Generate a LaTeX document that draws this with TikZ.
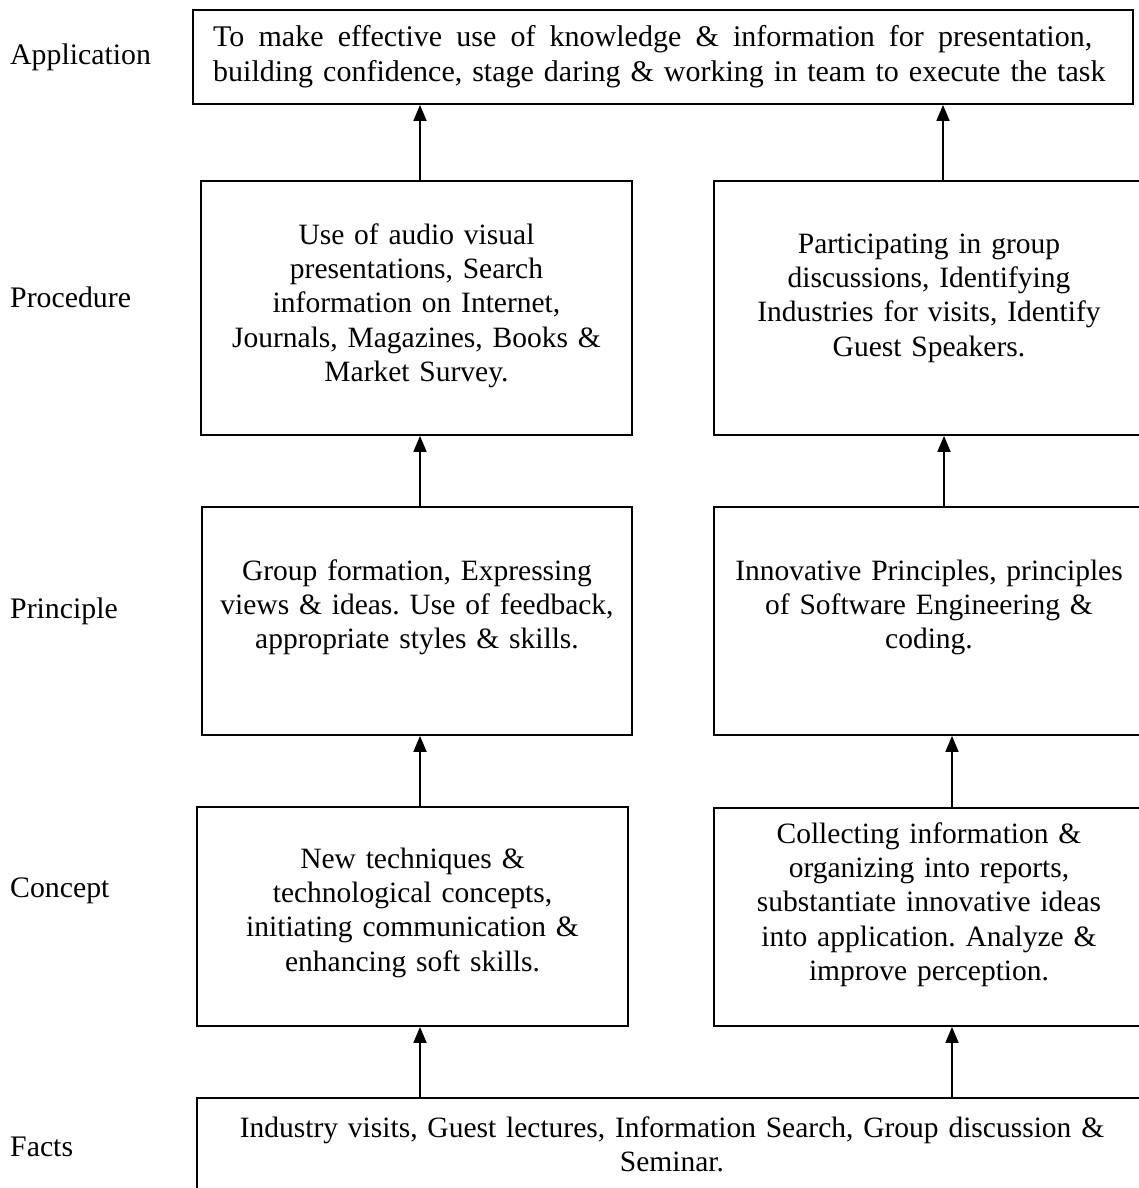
\documentclass[tikz,border=0pt]{standalone}
\usepackage{fontspec}
\setmainfont{Liberation Serif}
\usetikzlibrary{arrows.meta}
\frenchspacing
\begin{document}
\begin{tikzpicture}[x=1pt,y=-1pt,
  box/.style={draw,line width=1.8pt,inner sep=0pt,minimum width=#1},
  txt/.style={font=\fontsize{29.5}{34.4}\selectfont,inner sep=0pt,text width=430pt,align=center,anchor=base},
  lbl/.style={font=\fontsize{29.8}{34.4}\selectfont,inner sep=0pt,anchor=base west},
  arr/.style={line width=1.8pt,-{Triangle[length=16pt,width=13pt]}}]
\clip (0,0) rectangle (1139,1188);
\fill[white] (0,0) rectangle (1139,1188);
% boxes
\node[box=940pt,minimum height=94pt] (app) at (663,57) {};
\node[box=431pt,minimum height=254pt] (procL) at (416.5,308) {};
\node[box=430pt,minimum height=254pt] (procR) at (929,308) {};
\node[box=430pt,minimum height=228pt] (prinL) at (417,621) {};
\node[box=430pt,minimum height=228pt] (prinR) at (929,621) {};
\node[box=431pt,minimum height=219pt] (conL) at (412.5,916.5) {};
\node[box=430pt,minimum height=218pt] (conR) at (929,917) {};
\node[box=950pt,minimum height=112pt] (facts) at (672,1154) {};
% texts
\node[txt,font=\fontsize{30}{35}\selectfont,text width=930pt,align=left,anchor=base west] (tapp) at (213,47) {{\spaceskip=0.25em plus 1fil\hbox to 879pt{To make effective use of knowledge \& information for presentation,}}\\ building confidence, stage daring \& working in team to execute the task};
\node[txt] (tprocL) at (416.5,244) {Use of audio visual\\ presentations, Search\\ information on Internet,\\ Journals, Magazines, Books \&\\ Market Survey.};
\node[txt] (tprocR) at (929,253) {Participating in group\\ discussions, Identifying\\ Industries for visits, Identify\\ Guest Speakers.};
\node[txt] (tprinL) at (417,580) {Group formation, Expressing\\ views \& ideas. Use of feedback,\\ appropriate styles \& skills.};
\node[txt] (tprinR) at (929,580) {Innovative Principles, principles\\ of Software Engineering \&\\ coding.};
\node[txt] (tconL) at (412.5,868) {New techniques \&\\ technological concepts,\\ initiating communication \&\\ enhancing soft skills.};
\node[txt] (tconR) at (929,843) {Collecting information \&\\ organizing into reports,\\ substantiate innovative ideas\\ into application. Analyze \&\\ improve perception.};
\node[txt,text width=940pt] (tfacts) at (672,1137) {Industry visits, Guest lectures, Information Search, Group discussion \&\\ Seminar.};
% side labels
\node[lbl] (lapp) at (10,65) {Application};
\node[lbl] (lproc) at (10,307) {Procedure};
\node[lbl] (lprin) at (10,618) {Principle};
\node[lbl] (lcon) at (10,897) {Concept};
\node[lbl] (lfacts) at (10,1156) {Facts};
% arrows
\draw[arr] ([xshift=3.5pt]procL.north) -- ([xshift=3.5pt]procL.north |- app.south);
\draw[arr] ([xshift=14pt]procR.north) -- ([xshift=14pt]procR.north |- app.south);
\draw[arr] ([xshift=3pt]prinL.north) -- ([xshift=3pt]prinL.north |- procL.south);
\draw[arr] ([xshift=15pt]prinR.north) -- ([xshift=15pt]prinR.north |- procR.south);
\draw[arr] ([xshift=7.5pt]conL.north) -- ([xshift=7.5pt]conL.north |- prinL.south);
\draw[arr] ([xshift=23pt]conR.north) -- ([xshift=23pt]conR.north |- prinR.south);
\draw[arr] ([xshift=-252pt]facts.north) -- ([xshift=-252pt]facts.north |- conL.south);
\draw[arr] ([xshift=280pt]facts.north) -- ([xshift=280pt]facts.north |- conR.south);
\end{tikzpicture}
\end{document}
